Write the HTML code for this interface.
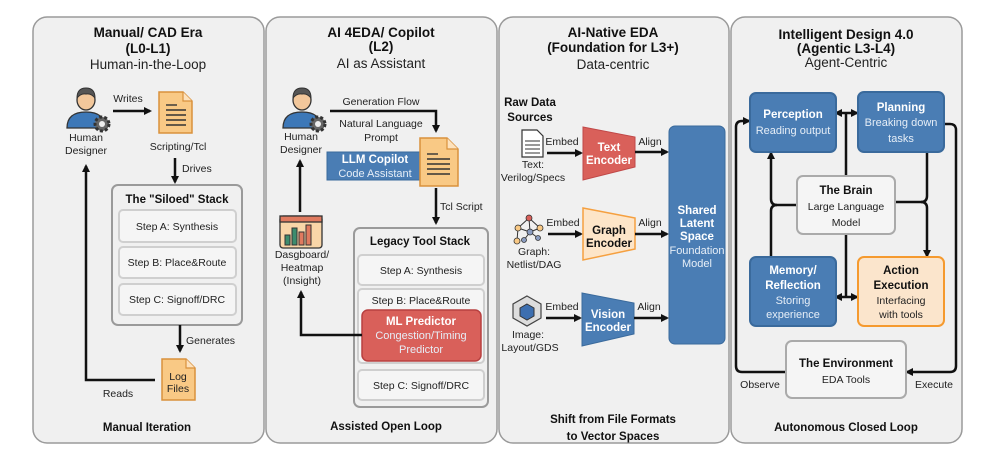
<!DOCTYPE html>
<html><head><meta charset="utf-8"><style>
html,body{margin:0;padding:0;background:#fff;}
svg{display:block;font-family:"Liberation Sans",Arial,sans-serif;}
.t{font-weight:bold;font-size:13.5px;fill:#111;text-anchor:middle}
.s{font-size:13.5px;fill:#222;text-anchor:middle}
.l{font-size:10.5px;fill:#222;text-anchor:middle}
.st{text-anchor:start}
.b{font-weight:bold;font-size:11.5px;fill:#111;text-anchor:middle}
.w{font-weight:bold;font-size:11.5px;fill:#fff;text-anchor:middle}
.wl{font-size:11px;fill:#e6eef7;text-anchor:middle}
.ln{stroke:#111;stroke-width:2.5;fill:none}
</style></head><body>
<svg width="996" height="460" viewBox="0 0 996 460">
<defs>
<marker id="a" markerWidth="8" markerHeight="8" refX="6" refY="4" orient="auto" markerUnits="userSpaceOnUse"><path d="M0,0 L8,4 L0,8 z" fill="#111"/></marker>
<g id="person">
<ellipse cx="0" cy="-8" rx="9" ry="10" fill="#f2c79b" stroke="#333" stroke-width="1.3"/>
<path d="M-9,-10 Q-9,-20 0,-20 Q9,-20 9,-10 Q5,-15 0,-14 Q-5,-15 -9,-10z" fill="#555" stroke="#333"/>
<path d="M-19,20 Q-19,4 0,4 Q19,4 19,20z" fill="#3d78b8" stroke="#333" stroke-width="1.3"/>
<circle cx="16" cy="16" r="7" fill="#666" stroke="#333" stroke-width="3" stroke-dasharray="3 2"/>
<circle cx="16" cy="16" r="3" fill="#eee"/>
</g>
<g id="doc">
<path d="M0,0 H24 L33,9 V41 H0z" fill="#f9c985" stroke="#d9913c" stroke-width="1.5"/>
<path d="M24,0 V9 H33" fill="#fde2bd" stroke="#d9913c" stroke-width="1.2"/>
</g>
</defs>
<!-- panels -->
<g fill="#f0f0f0" stroke="#9a9a9a" stroke-width="1.5">
<rect x="33" y="17" width="231" height="426" rx="14"/>
<rect x="266" y="17" width="231" height="426" rx="14"/>
<rect x="499" y="17" width="230" height="426" rx="14"/>
<rect x="731" y="17" width="231" height="426" rx="14"/>
</g>
<!-- Panel 1 -->
<text class="t" x="148" y="37">Manual/ CAD Era</text>
<text class="t" x="148" y="53">(L0-L1)</text>
<text class="s" x="148" y="69">Human-in-the-Loop</text>
<use href="#person" x="86" y="108"/>
<text class="l" x="86" y="141">Human</text>
<text class="l" x="86" y="154">Designer</text>
<line class="ln" x1="113" y1="111" x2="150" y2="111" marker-end="url(#a)"/>
<text class="l" x="128" y="102">Writes</text>
<use href="#doc" x="159" y="92"/>
<g stroke="#333" stroke-width="1.4"><line x1="166" y1="105" x2="177" y2="105"/><line x1="166" y1="110" x2="186" y2="110"/><line x1="166" y1="115" x2="186" y2="115"/><line x1="166" y1="120" x2="186" y2="120"/><line x1="166" y1="125" x2="186" y2="125"/></g>
<text class="l" x="178" y="150" font-size="11">Scripting/Tcl</text>
<line class="ln" x1="175" y1="158" x2="175" y2="182" marker-end="url(#a)"/>
<text class="l st" x="182" y="172">Drives</text>
<rect x="112" y="185" width="130" height="140" rx="6" fill="#f0f0f0" stroke="#9a9a9a" stroke-width="2"/>
<text class="b" x="177" y="203" font-size="12">The "Siloed" Stack</text>
<g fill="#f5f5f5" stroke="#cfcfcf" stroke-width="2">
<rect x="119" y="210" width="117" height="32" rx="4"/>
<rect x="119" y="247" width="117" height="31" rx="4"/>
<rect x="119" y="284" width="117" height="31" rx="4"/>
</g>
<text class="l" x="177" y="230">Step A: Synthesis</text>
<text class="l" x="177" y="266">Step B: Place&amp;Route</text>
<text class="l" x="177" y="303">Step C: Signoff/DRC</text>
<line class="ln" x1="180" y1="325" x2="180" y2="351" marker-end="url(#a)"/>
<text class="l st" x="186" y="344">Generates</text>
<use href="#doc" x="162" y="359"/>
<text class="l" x="178" y="380" font-size="9.5">Log</text>
<text class="l" x="178" y="392" font-size="9.5">Files</text>
<polyline class="ln" points="155,380 86,380 86,166" marker-end="url(#a)"/>
<text class="l" x="118" y="397">Reads</text>
<text class="b" x="147" y="431" font-size="12">Manual Iteration</text>
<!-- Panel 2 -->
<text class="t" x="381" y="37">AI 4EDA/ Copilot</text>
<text class="t" x="381" y="51">(L2)</text>
<text class="s" x="381" y="68">AI as Assistant</text>
<use href="#person" x="302" y="108"/>
<text class="l" x="301" y="140">Human</text>
<text class="l" x="301" y="153">Designer</text>
<polyline class="ln" points="330,111 436,111 436,131" marker-end="url(#a)"/>
<text class="l" x="381" y="105">Generation Flow</text>
<text class="l" x="381" y="127">Natural Language</text>
<text class="l" x="381" y="141">Prompt</text>
<path d="M327,152 H420 L427,166 L420,180 H327z" fill="#4a7db4" stroke="#3a6a9c"/>
<path d="M420,138 H447 L458,149 V186 H420z" fill="#f9c985" stroke="#d9913c" stroke-width="1.5"/>
<path d="M447,138 V149 H458" fill="#fde2bd" stroke="#d9913c" stroke-width="1.2"/>
<g stroke="#333" stroke-width="1.4"><line x1="427" y1="154" x2="438" y2="154"/><line x1="427" y1="159" x2="450" y2="159"/><line x1="427" y1="164" x2="450" y2="164"/><line x1="427" y1="169" x2="450" y2="169"/><line x1="427" y1="174" x2="450" y2="174"/></g>
<text class="w" x="375" y="163">LLM Copilot</text>
<text class="wl" x="375" y="177">Code Assistant</text>
<line class="ln" x1="436" y1="188" x2="436" y2="223" marker-end="url(#a)"/>
<text class="l st" x="440" y="210">Tcl Script</text>
<rect x="354" y="228" width="134" height="179" rx="6" fill="#f0f0f0" stroke="#9a9a9a" stroke-width="2"/>
<text class="b" x="420" y="245" font-size="11">Legacy Tool Stack</text>
<g fill="#f5f5f5" stroke="#cfcfcf" stroke-width="2">
<rect x="358" y="255" width="126" height="30" rx="4"/>
<rect x="358" y="289" width="126" height="74" rx="4"/>
<rect x="358" y="370" width="126" height="30" rx="4"/>
</g>
<text class="l" x="421" y="274">Step A: Synthesis</text>
<text class="l" x="421" y="304">Step B: Place&amp;Route</text>
<text class="l" x="421" y="389">Step C: Signoff/DRC</text>
<rect x="362" y="310" width="119" height="51" rx="6" fill="#d9605a" stroke="#b84040" stroke-width="1.5"/>
<text class="w" x="421" y="325">ML Predictor</text>
<text class="wl" x="421" y="339" font-size="10.5">Congestion/Timing</text>
<text class="wl" x="421" y="353" font-size="10.5">Predictor</text>
<rect x="280" y="216" width="42" height="32" rx="3" fill="#f9d6a8" stroke="#333" stroke-width="1.3"/>
<rect x="280" y="216" width="42" height="6" fill="#e07a5f" stroke="#333" stroke-width="1.3"/>
<g stroke="#333" stroke-width="1"><rect x="285" y="235" width="5" height="10" fill="#3d8c6e"/><rect x="292" y="228" width="5" height="17" fill="#3d8c6e"/><rect x="299" y="232" width="5" height="13" fill="#e07a5f"/><rect x="306" y="225" width="5" height="20" fill="#e07a5f"/></g>
<text class="l" x="302" y="258">Dasgboard/</text>
<text class="l" x="302" y="271">Heatmap</text>
<text class="l" x="302" y="284">(Insight)</text>
<line class="ln" x1="300" y1="212" x2="300" y2="161" marker-end="url(#a)"/>
<polyline class="ln" points="362,335 301,335 301,292" marker-end="url(#a)"/>
<text class="b" x="386" y="430" font-size="12">Assisted Open Loop</text>
<!-- Panel 3 -->
<text class="t" x="613" y="37">AI-Native EDA</text>
<text class="t" x="613" y="52">(Foundation for L3+)</text>
<text class="s" x="613" y="69">Data-centric</text>
<text class="b" x="530" y="106" font-size="11">Raw Data</text>
<text class="b" x="530" y="121" font-size="11">Sources</text>
<path d="M522,130 H537 L543,136 V157 H522z" fill="#fff" stroke="#333" stroke-width="1.2"/>
<g stroke="#333" stroke-width="1"><line x1="525" y1="141" x2="540" y2="141"/><line x1="525" y1="145" x2="540" y2="145"/><line x1="525" y1="149" x2="540" y2="149"/><line x1="525" y1="153" x2="540" y2="153"/></g>
<text class="l" x="533" y="168">Text:</text>
<text class="l" x="533" y="181">Verilog/Specs</text>
<line class="ln" x1="547" y1="153" x2="581" y2="153" marker-end="url(#a)"/>
<text class="l" x="562" y="145">Embed</text>
<path d="M583,127 L635,137 V167 L583,180z" fill="#d9605a" stroke="#c04848"/>
<text class="w" x="609" y="151">Text</text>
<text class="w" x="609" y="164">Encoder</text>
<line class="ln" x1="635" y1="152" x2="667" y2="152" marker-end="url(#a)"/>
<text class="l" x="650" y="145">Align</text>
<g stroke="#333" stroke-width="1"><line x1="529" y1="218" x2="518" y2="228"/><line x1="529" y1="218" x2="540" y2="228"/><line x1="529" y1="218" x2="530" y2="232"/><line x1="518" y1="228" x2="530" y2="232"/><line x1="540" y1="228" x2="530" y2="232"/><line x1="518" y1="228" x2="517" y2="241"/><line x1="530" y1="232" x2="524" y2="240"/><line x1="530" y1="232" x2="538" y2="238"/></g>
<g stroke="#333" stroke-width="0.8"><circle cx="529" cy="218" r="3" fill="#d9605a"/><circle cx="518" cy="228" r="3" fill="#f9c985"/><circle cx="540" cy="228" r="3" fill="#f9c985"/><circle cx="530" cy="232" r="3" fill="#8a9cc0"/><circle cx="517" cy="241" r="3" fill="#f9c985"/><circle cx="524" cy="240" r="2.5" fill="#8a9cc0"/><circle cx="538" cy="238" r="2.5" fill="#8a9cc0"/></g>
<text class="l" x="534" y="255">Graph:</text>
<text class="l" x="534" y="268">Netlist/DAG</text>
<line class="ln" x1="548" y1="234" x2="581" y2="234" marker-end="url(#a)"/>
<text class="l" x="563" y="226">Embed</text>
<path d="M583,208 L635,218 V249 L583,260z" fill="#fde5c8" stroke="#f5a040" stroke-width="1.5"/>
<text class="b" x="609" y="234" font-size="12">Graph</text>
<text class="b" x="609" y="247" font-size="12">Encoder</text>
<line class="ln" x1="635" y1="234" x2="667" y2="234" marker-end="url(#a)"/>
<text class="l" x="650" y="226">Align</text>
<path d="M527,296 L541,304 V318 L527,326 L513,318 V304z" fill="#ddd" stroke="#444" stroke-width="1.2"/>
<path d="M527,304 L534,308 V316 L527,320 L520,316 V308z" fill="#3d6fb0" stroke="#333"/>
<text class="l" x="528" y="338">Image:</text>
<text class="l" x="530" y="351">Layout/GDS</text>
<line class="ln" x1="546" y1="318" x2="580" y2="318" marker-end="url(#a)"/>
<text class="l" x="562" y="310">Embed</text>
<path d="M582,293 L634,303 V334 L582,346z" fill="#4a7db4" stroke="#3a6a9c"/>
<text class="w" x="608" y="318">Vision</text>
<text class="w" x="608" y="331">Encoder</text>
<line class="ln" x1="634" y1="318" x2="667" y2="318" marker-end="url(#a)"/>
<text class="l" x="649" y="310">Align</text>
<rect x="669" y="126" width="56" height="218" rx="6" fill="#4a7db4" stroke="#3a6a9c"/>
<text class="w" x="697" y="214">Shared</text>
<text class="w" x="697" y="227">Latent</text>
<text class="w" x="697" y="240">Space</text>
<text class="wl" x="697" y="254" font-size="10">Foundation</text>
<text class="wl" x="697" y="267" font-size="10">Model</text>
<text class="b" x="613" y="423" font-size="12">Shift from File Formats</text>
<text class="b" x="613" y="440" font-size="12">to Vector Spaces</text>
<!-- Panel 4 -->
<text class="t" x="846" y="39">Intelligent Design 4.0</text>
<text class="t" x="846" y="53">(Agentic L3-L4)</text>
<text class="s" x="846" y="67">Agent-Centric</text>
<path class="ln" d="M786,372 H742 Q736,372 736,366 V127 Q736,121 742,121 H749" marker-end="url(#a)"/>
<path class="ln" d="M944,124 H950 Q956,124 956,130 V366 Q956,372 950,372 H907" marker-end="url(#a)"/>
<line class="ln" x1="846" y1="176" x2="846" y2="113"/>
<line class="ln" x1="846" y1="113" x2="836" y2="113" marker-end="url(#a)"/>
<line class="ln" x1="846" y1="113" x2="857" y2="113" marker-end="url(#a)"/>
<line class="ln" x1="846" y1="234" x2="846" y2="297"/>
<line class="ln" x1="846" y1="297" x2="836" y2="297" marker-end="url(#a)"/>
<line class="ln" x1="846" y1="297" x2="857" y2="297" marker-end="url(#a)"/>
<path class="ln" d="M797,205 H777 Q771,205 771,199 V153" marker-end="url(#a)"/>
<path class="ln" d="M777,205 Q771,205 771,211 V257"/>
<path class="ln" d="M895,202 H921 Q927,202 927,196 V152"/>
<path class="ln" d="M921,202 Q927,202 927,208 V256" marker-end="url(#a)"/>
<g stroke="#3a6a9c" stroke-width="2" fill="#4a7db4">
<rect x="750" y="93" width="86" height="59" rx="6"/>
<rect x="858" y="92" width="86" height="60" rx="6"/>
<rect x="750" y="257" width="86" height="69" rx="6"/>
</g>
<rect x="858" y="257" width="86" height="69" rx="6" fill="#fbe5cc" stroke="#f59a2f" stroke-width="2"/>
<rect x="797" y="176" width="98" height="58" rx="6" fill="#f5f5f5" stroke="#aaa" stroke-width="2"/>
<rect x="786" y="341" width="120" height="57" rx="6" fill="#f5f5f5" stroke="#aaa" stroke-width="2"/>
<text class="w" x="793" y="118">Perception</text>
<text class="wl" x="793" y="134">Reading output</text>
<text class="w" x="901" y="111">Planning</text>
<text class="wl" x="901" y="126">Breaking down</text>
<text class="wl" x="901" y="142">tasks</text>
<text class="b" x="846" y="194" font-size="11">The Brain</text>
<text class="l" x="846" y="210" font-size="11">Large Language</text>
<text class="l" x="846" y="226" font-size="11">Model</text>
<text class="w" x="793" y="274">Memory/</text>
<text class="w" x="793" y="289">Reflection</text>
<text class="wl" x="793" y="304">Storing</text>
<text class="wl" x="793" y="318">experience</text>
<text class="b" x="901" y="274">Action</text>
<text class="b" x="901" y="289">Execution</text>
<text class="l" x="901" y="304" font-size="11">Interfacing</text>
<text class="l" x="901" y="318" font-size="11">with tools</text>
<text class="b" x="846" y="367" font-size="11">The Environment</text>
<text class="l" x="846" y="383" font-size="11">EDA Tools</text>
<text class="l" x="760" y="388">Observe</text>
<text class="l" x="934" y="388">Execute</text>
<text class="b" x="846" y="431" font-size="12">Autonomous Closed Loop</text>
</svg>
</body></html>
